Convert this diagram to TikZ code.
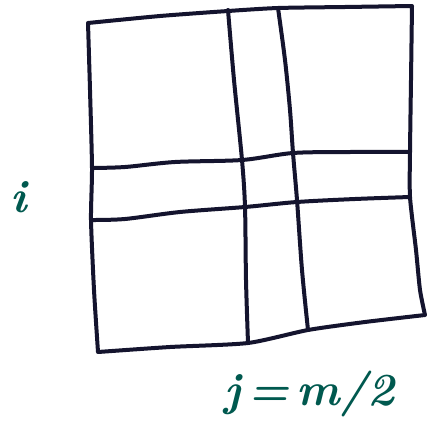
\documentclass[tikz,border=0pt]{standalone}
\usetikzlibrary{calc}
\definecolor{ink}{HTML}{14142E}
\definecolor{teal}{HTML}{00594F}
\tikzset{
  pen/.style={draw=ink, line width=4pt, line cap=round, line join=round},
  lbl/.style={text=teal, inner sep=0pt, font=\fontsize{46}{50}\selectfont\bfseries\itshape}
}
\begin{document}
\begin{tikzpicture}[x=1pt,y=-1pt]
\path[use as bounding box, fill=white] (0,0) rectangle (430,439);
% outer square
\draw[pen] plot[smooth, tension=0.4] coordinates {(88,23) (160,16) (228,11) (278,8) (345,7) (412,6)}
  -- plot[smooth, tension=0.4] coordinates {(412,6) (411,80) (410,152) (410,197) (416,250) (420,290) (425,315)}
  -- plot[smooth, tension=0.4] coordinates {(425,315) (365,322) (308,330) (248,343) (170,347) (98,352)}
  -- plot[smooth, tension=0.4] coordinates {(98,352) (94,290) (91,220) (92,168) (90,90) (88,23)};
% vertical lines
\draw[pen] plot[smooth, tension=0.5] coordinates {(228,10) (234,80) (242,160) (245,207) (246,280) (248,343)};
\draw[pen] plot[smooth, tension=0.5] coordinates {(278,8) (285,60) (290,110) (293,153) (297,200) (302,270) (308,330)};
% horizontal lines
\draw[pen] plot[smooth, tension=0.5] coordinates {(92,168) (125,167) (175,162) (242,160) (293,153) (350,152) (410,152)};
\draw[pen] plot[smooth, tension=0.5] coordinates {(92,220) (125,219) (180,212) (245,207) (297,202) (355,199) (410,197)};
% labels
\node[lbl] (i) at (19,197) {i};
\node[lbl, anchor=west] (j) at (224,394) {j\,=\,m/2};
\end{tikzpicture}
\end{document}
